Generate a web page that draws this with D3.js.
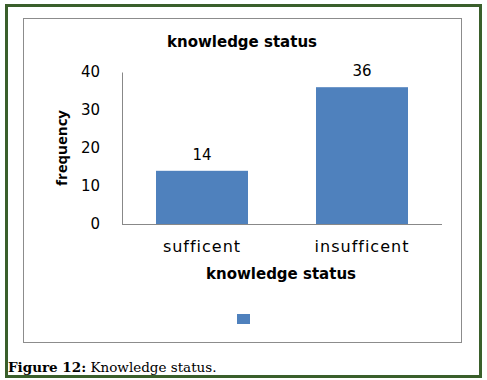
<!DOCTYPE html>
<html>
<head>
<meta charset="utf-8">
<script src="https://cdn.jsdelivr.net/npm/d3@7"></script>
<style>
  body { margin: 0; background: #fff; }
</style>
</head>
<body>
<svg id="chart" width="487" height="380"></svg>
<script>
// data
const categories = ["sufficent", "insufficent"]
const values = [14, 36]
const yTicks = [0, 10, 20, 30, 40]
const legendLabels = [""]

const svg = d3.select('#chart')
const font = "'DejaVu Sans', sans-serif"
const boldFont = "'Open Sans', 'DejaVu Sans', sans-serif"

// outer green frame
svg.append('rect')
    .attr('x', 6.5).attr('y', 5.5)
    .attr('width', 474).attr('height', 371)
    .attr('fill', 'none')
    .attr('stroke', '#3a5f2b')
    .attr('stroke-width', 3)

// chart area box
svg.append('rect')
    .attr('x', 23.5).attr('y', 18.5)
    .attr('width', 438).attr('height', 324)
    .attr('fill', '#fff')
    .attr('stroke', '#8c8c8c')
    .attr('stroke-width', 1)

const plot = { left: 122, right: 442, top: 72, bottom: 224 }

const x = d3.scaleBand()
    .domain(categories)
    .range([plot.left, plot.right])
    .paddingInner(0.425)
    .paddingOuter(0.2125)

const y = d3.scaleLinear()
    .domain([0, 40])
    .range([plot.bottom, plot.top])

// title
svg.append('text')
    .attr('x', 242).attr('y', 47)
    .attr('text-anchor', 'middle')
    .attr('font-family', font)
    .attr('font-weight', 'bold')
    .attr('font-size', 15)
    .text('knowledge status')

// y axis
const yAxis = svg.append('g')
    .attr('transform', `translate(${plot.left},0)`)
    .call(d3.axisLeft(y).tickValues(yTicks).tickSize(0).tickPadding(22))
yAxis.select('.domain').attr('stroke', '#888')
yAxis.selectAll('text')
    .attr('font-family', font)
    .attr('font-size', 15)
    .attr('fill', '#000')

// x axis
const xAxis = svg.append('g')
    .attr('transform', `translate(0,${plot.bottom})`)
    .call(d3.axisBottom(x).tickSize(0).tickPadding(17))
xAxis.select('.domain').attr('stroke', '#888')
    .attr('d', `M${plot.left},0.5H${plot.right}`)
xAxis.selectAll('text')
    .attr('font-family', font)
    .attr('font-size', 16)
    .attr('letter-spacing', 1)
    .attr('fill', '#000')

// bars
svg.selectAll('.bar')
    .data(values)
    .join('rect')
    .attr('class', 'bar')
    .attr('x', (d, i) => x(categories[i]))
    .attr('y', d => y(d))
    .attr('width', x.bandwidth())
    .attr('height', d => y(0) - y(d))
    .attr('fill', '#4f81bd')

// value labels
svg.selectAll('.val')
    .data(values)
    .join('text')
    .attr('class', 'val')
    .attr('x', (d, i) => x(categories[i]) + x.bandwidth() / 2)
    .attr('y', d => y(d) - 11)
    .attr('text-anchor', 'middle')
    .attr('font-family', font)
    .attr('font-size', 15)
    .text(d => d)

// axis titles
svg.append('text')
    .attr('x', 281).attr('y', 279)
    .attr('text-anchor', 'middle')
    .attr('font-family', font)
    .attr('font-weight', 'bold')
    .attr('font-size', 15)
    .text('knowledge status')

svg.append('text')
    .attr('transform', 'translate(67,148) rotate(-90)')
    .attr('text-anchor', 'middle')
    .attr('font-family', boldFont)
    .attr('font-weight', 'bold')
    .attr('font-size', 15)
    .text('frequency')

// legend (single unnamed series)
const legend = svg.selectAll('.leg')
    .data(legendLabels)
    .join('g')
    .attr('class', 'leg')
    .attr('transform', 'translate(237,314)')
legend.append('rect')
    .attr('width', 13).attr('height', 10)
    .attr('fill', '#4f81bd')
legend.append('text')
    .attr('x', 17).attr('y', 9)
    .attr('font-family', font)
    .attr('font-size', 12)
    .text(d => d)

// figure caption
const cap = svg.append('text')
    .attr('x', 8).attr('y', 372)
    .attr('font-family', "'DejaVu Serif', serif")
    .attr('font-size', 13.5)
cap.append('tspan').attr('font-weight', 'bold').text('Figure 12:')
cap.append('tspan').text(' Knowledge status.')
</script>
</body>
</html>
